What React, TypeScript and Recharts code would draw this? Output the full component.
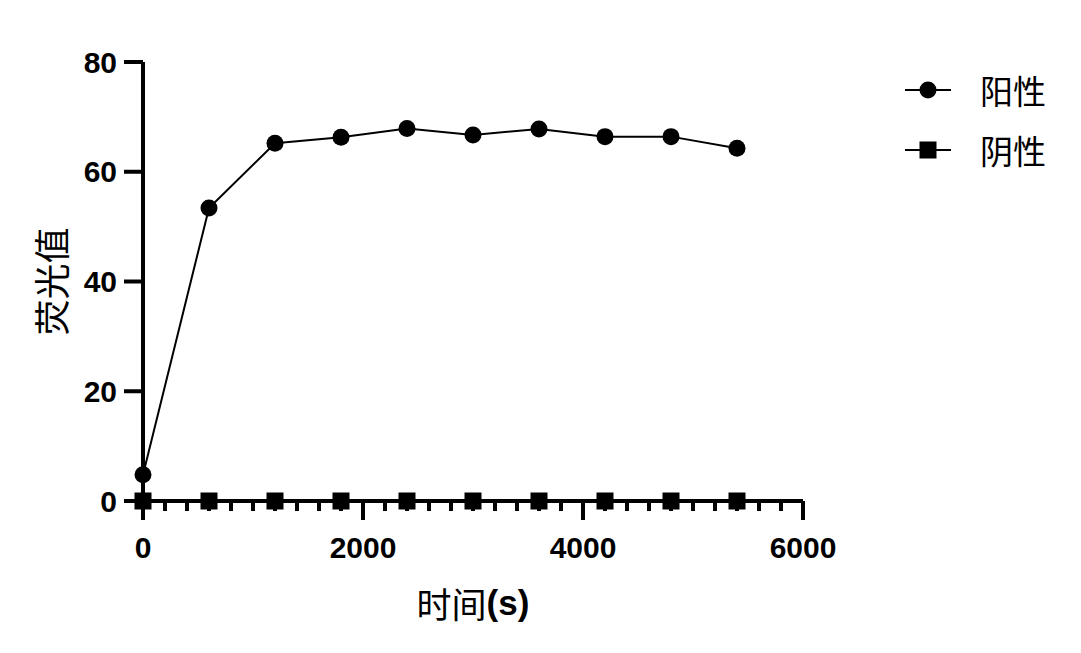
import React from 'react';
import { LineChart, Line, XAxis, YAxis, Legend } from 'recharts';

const times = [0, 600, 1200, 1800, 2400, 3000, 3600, 4200, 4800, 5400];
const positive = [4.8, 53.4, 65.2, 66.3, 67.9, 66.7, 67.8, 66.4, 66.4, 64.3];
const negative = [0, 0, 0, 0, 0, 0, 0, 0, 0, 0];

const xMajorTicks = [0, 2000, 4000, 6000];
const xAllTicks = [
  0, 200, 400, 600, 800, 1000, 1200, 1400, 1600, 1800, 2000, 2200, 2400, 2600, 2800, 3000,
  3200, 3400, 3600, 3800, 4000, 4200, 4400, 4600, 4800, 5000, 5200, 5400, 5600, 5800, 6000,
];
const yTicks = [0, 20, 40, 60, 80];

const data = times.map((t, i) => ({ t, pos: positive[i], neg: negative[i] }));

const numFont = '"Liberation Sans", Arial, sans-serif';
const cjkFont = '"Noto Sans CJK SC", sans-serif';

const XTick = (props: any) => {
  const { x, y, payload } = props;
  const major = xMajorTicks.includes(payload.value);
  return (
    <g>
      <line x1={x} y1={y} x2={x} y2={y + (major ? 19 : 10)} stroke="#000" strokeWidth={4} />
      {major && (
        <text
          x={x}
          y={y + 46}
          textAnchor="middle"
          dominantBaseline="central"
          fontFamily={numFont}
          fontWeight="bold"
          fontSize={30}
          fill="#000"
        >
          {payload.value}
        </text>
      )}
    </g>
  );
};

const YTick = (props: any) => {
  const { x, y, payload } = props;
  return (
    <g>
      <line x1={x - 19} y1={y} x2={x} y2={y} stroke="#000" strokeWidth={4} />
      <text
        x={x - 26}
        y={y}
        textAnchor="end"
        dominantBaseline="central"
        fontFamily={numFont}
        fontWeight="bold"
        fontSize={30}
        fill="#000"
      >
        {payload.value}
      </text>
    </g>
  );
};

const Dot = ({ cx, cy }: any) => <circle cx={cx} cy={cy} r={8.5} fill="#000" />;
const Square = ({ cx, cy }: any) => <rect x={cx - 8.5} y={cy - 8.5} width={17} height={17} fill="#000" />;

const LegendBox = () => {
  const items = [
    { name: '阳性', shape: 'circle' },
    { name: '阴性', shape: 'square' },
  ];
  return (
    <div>
      {items.map((it) => (
        <div key={it.name} style={{ display: 'flex', alignItems: 'center', height: 60 }}>
          <svg width={60} height={30}>
            <line x1={0} y1={15} x2={46} y2={15} stroke="#000" strokeWidth={2} />
            {it.shape === 'circle' ? (
              <circle cx={23} cy={15} r={8.5} fill="#000" />
            ) : (
              <rect x={14.5} y={6.5} width={17} height={17} fill="#000" />
            )}
          </svg>
          <span style={{ fontFamily: cjkFont, fontSize: 33, marginLeft: 15, color: '#000', lineHeight: '40px' }}>
            {it.name}
          </span>
        </div>
      ))}
    </div>
  );
};

export default function App() {
  return (
    <div style={{ position: 'absolute', left: 0, top: 0, width: 1081, height: 653, background: '#fff' }}>
      <LineChart width={1081} height={653} data={data} margin={{ top: 62, right: 278, bottom: 0, left: 8 }}>
        <XAxis
          dataKey="t"
          type="number"
          domain={[0, 6000]}
          ticks={xAllTicks}
          interval={0}
          tickSize={0}
          tickMargin={0}
          tickLine={false}
          tick={<XTick />}
          axisLine={{ stroke: '#000', strokeWidth: 4 }}
          height={152}
          label={(p: any) => {
            const vb = p.viewBox;
            return (
              <text
                x={vb.x + vb.width / 2}
                y={vb.y + 101}
                textAnchor="middle"
                dominantBaseline="central"
                fontSize={35}
                fill="#000"
              >
                <tspan fontFamily={cjkFont}>时间</tspan>
                <tspan fontFamily={numFont} fontWeight="bold">(s)</tspan>
              </text>
            );
          }}
        />
        <YAxis
          type="number"
          domain={[0, 80]}
          ticks={yTicks}
          interval={0}
          width={135}
          tickSize={0}
          tickMargin={0}
          tickLine={false}
          axisLine={{ stroke: '#000', strokeWidth: 4 }}
          tick={<YTick />}
          label={(p: any) => {
            const vb = p.viewBox;
            const cx = 50;
            const cy = vb.y + vb.height / 2;
            return (
              <text
                x={cx}
                y={cy}
                textAnchor="middle"
                dominantBaseline="central"
                transform={`rotate(-90 ${cx} ${cy})`}
                fontFamily={cjkFont}
                fontSize={36}
                fill="#000"
              >
                荧光值
              </text>
            );
          }}
        />
        <Legend
          layout="vertical"
          align="center"
          verticalAlign="middle"
          content={<LegendBox />}
          wrapperStyle={{ left: 905, top: 60, width: 176 }}
        />
        <Line
          dataKey="pos"
          name="阳性"
          stroke="#000"
          strokeWidth={2}
          dot={<Dot />}
          activeDot={false}
          isAnimationActive={false}
        />
        <Line
          dataKey="neg"
          name="阴性"
          stroke="#000"
          strokeWidth={2}
          dot={<Square />}
          activeDot={false}
          isAnimationActive={false}
        />
      </LineChart>
    </div>
  );
}
